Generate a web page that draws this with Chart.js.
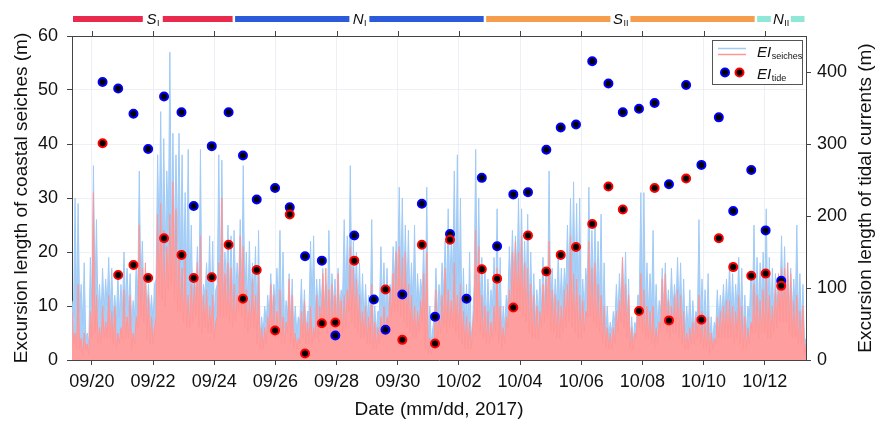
<!DOCTYPE html>
<html><head><meta charset="utf-8">
<script src="https://cdn.jsdelivr.net/npm/chart.js@4/dist/chart.umd.min.js"></script>
<style>html,body{margin:0;padding:0;background:#fff}</style>
</head><body>
<canvas id="c" width="877" height="423"></canvas>
<script>
// ---- DATA ----
// seiches excursion length (m): local peaks every 0.1 day from 0.65 day before 09/20 00:00,
// and the troughs read between consecutive peaks
const seichesStart = -0.65;
const seichesStep = 0.1;
const seichesBlue = [
11,30,29,14,18,5,19,36,26,14,17,
15,19,17,12,16,14,20,17,16,11,
18,35,22,16,14,12,14,38,46,41,
35,57,42,38,42,38,31,39,25,16,
21,39,14,18,23,22,13,38,37,20,
25,23,24,18,26,36,20,22,18,21,
24,8,10,12,16,14,17,24,20,11,
16,15,10,8,15,13,9,22,23,15,
15,17,14,24,16,15,17,13,26,23,
36,22,20,18,16,14,12,26,10,9,
21,18,17,14,21,22,32,30,25,24,
18,25,16,15,22,32,10,6,17,14,
18,22,28,22,35,38,30,17,14,20,
7,39,30,19,17,15,13,19,28,19,
10,12,21,24,23,30,28,22,27,20,
16,13,15,19,17,35,17,15,20,17,
17,25,30,33,29,30,15,17,32,24,
25,22,27,18,10,7,9,14,16,19,
20,15,8,7,12,31,31,18,16,24,
14,11,17,18,13,17,14,19,18,15,
10,13,11,9,26,15,13,16,8,7,
13,12,14,15,18,16,14,19,17,12,
10,16,25,19,18,20,28,19,17,16,
14,23,21,18,17,15,25,16,14,4
];
const seichesBlueLow = [
8,10,9,7,4,3,10,12,9,8,
9,10,9,8,7,8,9,10,9,7,
8,12,14,12,9,8,7,15,22,20,
20,24,22,20,22,18,16,15,12,10,
12,10,9,12,11,9,8,14,13,12,
14,12,11,12,14,13,11,10,11,12,
6,4,5,7,8,9,10,10,7,6,
8,6,5,5,7,6,5,9,10,8,
9,9,10,9,9,10,8,9,12,12,
14,12,11,9,8,7,7,6,5,5,
9,10,8,9,12,15,16,14,13,11,
10,10,9,10,12,6,3,3,8,8,
10,12,12,13,16,14,10,7,5,4,
4,14,12,10,8,7,8,10,10,6,
4,6,10,14,15,15,14,13,12,10,
8,7,8,9,10,11,9,9,10,9,
10,13,14,14,13,10,8,9,13,13,
13,12,11,6,4,4,5,7,8,10,
9,6,3,3,6,12,10,8,9,9,
6,6,9,9,8,8,9,10,9,7,
5,5,5,6,8,7,6,5,3,3,
6,7,8,8,9,8,8,9,7,5,
5,8,10,9,9,11,10,8,8,8,
9,11,10,9,8,9,9,7,6,3
];
const seichesRed = [
9,5,14,4,5,3,9,31,12,6,10,
7,12,9,10,5,6,13,8,12,5,
8,25,17,18,12,8,6,27,29,24,
21,27,33,28,20,17,19,12,14,15,
18,23,12,13,10,12,7,18,30,16,
18,17,14,12,23,21,13,11,15,12,
16,6,6,8,14,12,9,13,8,7,
15,12,5,4,9,11,7,10,6,12,
10,16,17,13,14,12,16,11,12,13,
21,17,15,12,9,10,8,14,7,6,
8,10,8,13,16,20,21,19,20,14,
12,10,9,11,16,20,4,3,13,8,
12,17,13,11,18,12,14,9,8,7,
6,24,21,12,10,9,7,10,17,10,
6,8,13,20,22,20,23,18,17,14,
12,10,9,14,15,22,13,12,11,10,
13,14,23,16,15,12,11,9,22,17,
18,14,12,10,6,5,6,9,11,19,
14,12,6,5,10,16,13,10,9,10,
6,7,15,16,11,10,12,13,12,9,
5,6,7,8,12,9,7,8,5,4,
8,9,10,11,11,10,9,12,10,8,
6,7,14,12,11,13,15,12,10,13,
16,17,17,18,16,11,12,9,10,3
];
const seichesRedLow = [
3,2,2,1,2,1,4,5,3,3,
4,4,4,3,2,3,4,4,4,2,
3,6,8,7,4,3,3,8,12,11,
10,13,14,11,9,9,7,6,6,7,
8,6,5,6,5,5,4,8,8,8,
8,7,6,7,9,8,6,5,6,6,
3,2,2,3,5,5,4,4,3,3,
5,3,2,2,3,4,3,3,3,4,
4,6,6,5,5,6,5,5,5,6,
9,7,6,5,4,4,3,3,2,2,
3,4,4,6,8,9,9,8,7,6,
5,4,4,5,7,2,1,1,4,4,
5,6,5,6,6,5,4,3,2,2,
2,9,7,5,4,3,3,4,5,3,
2,3,6,9,10,9,9,8,7,5,
4,4,4,6,7,8,5,5,4,4,
5,6,7,6,5,4,4,5,8,8,
7,6,5,3,2,2,2,3,5,7,
6,4,2,2,4,6,5,4,4,3,
2,3,6,6,5,4,5,5,4,3,
2,2,3,3,4,3,2,2,1,2,
3,4,4,4,4,4,3,4,3,2,
2,3,5,5,4,5,5,4,4,5,
6,7,7,7,5,4,4,3,3,1
];
// tidal current excursion length (m), days after 09/20 00:00
const tideDays = [0.35,0.86,1.36,1.84,2.36,2.93,3.33,3.92,4.47,4.94,5.39,5.99,6.47,6.97,7.52,7.96,8.58,9.22,9.60,10.15,10.79,11.22,11.71,12.25,12.75,13.25,13.78,14.26,14.86,15.33,15.83,16.36,16.89,17.36,17.89,18.40,18.87,19.43,19.93,20.50,20.97,21.56,22.03,22.54];
const tideBlue = [386,377,342,293,366,344,214,297,344,284,223,239,212,144,138,34,173,84,42,91,217,60,175,85,253,158,230,233,292,323,327,415,384,344,349,357,244,382,271,337,207,264,180,110];
const tideRed = [301,118,132,114,169,146,114,115,160,85,125,41,202,9,51,52,138,null,98,28,160,23,167,null,126,113,73,173,123,146,157,189,241,209,68,239,55,252,56,169,129,117,120,103];
// axes
const tickDays = [0,2,4,6,8,10,12,14,16,18,20,22];
const tickLabels = ['09/20','09/22','09/24','09/26','09/28','09/30','10/02','10/04','10/06','10/08','10/10','10/12'];
const leftTicks = [0,10,20,30,40,50,60];
const rightTicks = [0,100,200,300,400];
// phases
const phaseNames = ['S','N','S','N'];
const phaseSubs = ['I','I','II','II'];
const phaseStarts = [-0.65,4.65,12.86,21.72];
const phaseEnds = [4.65,12.86,21.72,23.35];
const phaseColors = ['#ea2a4c','#2b5ada','#f59c4d','#8fe8d5'];

// ---- CHART ----
const FONT = "'Liberation Sans', Arial, sans-serif";
function seriesPts(peaks, lows){
  const pts = [];
  peaks.forEach((v,i)=>{
    pts.push({x: seichesStart + i*seichesStep, y: v});
    if (i < lows.length) pts.push({x: seichesStart + (i+0.5)*seichesStep, y: lows[i]});
  });
  return pts;
}
const toDots = (arr) => tideDays.map((d,i)=>({x:d, y:arr[i]})).filter(p=>p.y!==null);

const decor = {
  id:'decor',
  afterDraw(chart){
    const ctx = chart.ctx, ca = chart.chartArea, xs = chart.scales.x;
    ctx.save();
    ctx.strokeStyle = '#444'; ctx.lineWidth = 1;
    ctx.beginPath(); ctx.moveTo(ca.left, ca.top+0.5); ctx.lineTo(ca.right, ca.top+0.5); ctx.stroke();
    tickDays.forEach(d=>{
      const x = Math.round(xs.getPixelForValue(d))+0.5;
      ctx.beginPath(); ctx.moveTo(x, ca.top-5); ctx.lineTo(x, ca.top); ctx.stroke();
    });
    // phase bars
    phaseStarts.forEach((s,k)=>{
      const x0 = xs.getPixelForValue(s)+1, x1 = xs.getPixelForValue(phaseEnds[k])-1.5;
      const xc = (x0+x1)/2;
      ctx.fillStyle = phaseColors[k];
      ctx.fillRect(x0, 16, xc-10-x0, 6);
      ctx.fillRect(xc+10, 16, x1-xc-10, 6);
      ctx.fillStyle = '#111';
      ctx.font = 'italic 15px '+FONT;
      const w1 = ctx.measureText(phaseNames[k]).width;
      ctx.font = '9px '+FONT;
      const w2 = ctx.measureText(phaseSubs[k]).width;
      const xl = xc - (w1+w2)/2;
      ctx.textBaseline = 'alphabetic'; ctx.textAlign='left';
      ctx.font = 'italic 15px '+FONT; ctx.fillText(phaseNames[k], xl, 24);
      ctx.font = '9px '+FONT; ctx.fillText(phaseSubs[k], xl+w1+0.5, 26);
    });
    // legend
    const lx = ca.right-94, ly = ca.top+4;
    ctx.lineWidth = 1;
    ctx.fillStyle='#fff'; ctx.fillRect(lx+0.5, ly+0.5, 90, 44);
    ctx.strokeStyle='#555'; ctx.strokeRect(lx+0.5, ly+0.5, 90, 44);
    ctx.lineWidth = 1.5;
    ctx.strokeStyle='rgb(160,202,245)'; ctx.beginPath(); ctx.moveTo(lx+6, ly+8.5); ctx.lineTo(lx+34, ly+8.5); ctx.stroke();
    ctx.strokeStyle='rgb(255,150,150)'; ctx.beginPath(); ctx.moveTo(lx+6, ly+14.5); ctx.lineTo(lx+34, ly+14.5); ctx.stroke();
    [['#0000ff',lx+13],['#ff0000',lx+27.5]].forEach(([c,x])=>{
      ctx.beginPath(); ctx.arc(x, ly+32.5, 4, 0, Math.PI*2);
      ctx.fillStyle='#000'; ctx.fill(); ctx.lineWidth=2; ctx.strokeStyle=c; ctx.stroke();
    });
    ctx.fillStyle='#111'; ctx.textAlign='left'; ctx.textBaseline='alphabetic';
    ctx.font='italic 15px '+FONT; ctx.fillText('EI', lx+45, ly+17);
    const we = ctx.measureText('EI').width;
    ctx.font='9px '+FONT; ctx.fillText('seiches', lx+45+we+0.5, ly+19);
    ctx.font='italic 15px '+FONT; ctx.fillText('EI', lx+45, ly+38.5);
    ctx.font='9px '+FONT; ctx.fillText('tide', lx+45+we+0.5, ly+41);
    // right title
    ctx.translate(866, (ca.top+ca.bottom)/2);
    ctx.rotate(-Math.PI/2);
    ctx.textAlign='center'; ctx.textBaseline='middle';
    ctx.font='19px '+FONT; ctx.fillStyle='#111';
    ctx.fillText('Excursion length of tidal currents (m)', 0, 0);
    ctx.restore();
  }
};

new Chart(document.getElementById('c'), {
  type:'line',
  data:{ datasets:[
    {label:'EI_seiches blue', data:seriesPts(seichesBlue, seichesBlueLow), borderColor:'rgb(160,202,245)', backgroundColor:'rgb(168,207,247)', fill:'origin', borderWidth:1, pointRadius:0, tension:0, yAxisID:'y', order:4},
    {label:'EI_seiches red', data:seriesPts(seichesRed, seichesRedLow), borderColor:'rgb(255,150,150)', backgroundColor:'rgb(255,158,158)', fill:'origin', borderWidth:1, pointRadius:0, tension:0, yAxisID:'y', order:3},
    {type:'scatter', label:'EI_tide blue', data:toDots(tideBlue), pointRadius:4, pointBorderWidth:2, pointBackgroundColor:'#000', pointBorderColor:'#0000ff', backgroundColor:'#000', borderColor:'#0000ff', yAxisID:'y2', order:2},
    {type:'scatter', label:'EI_tide red', data:toDots(tideRed), pointRadius:4, pointBorderWidth:2, pointBackgroundColor:'#000', pointBorderColor:'#ff0000', backgroundColor:'#000', borderColor:'#ff0000', yAxisID:'y2', order:1}
  ]},
  options:{
    responsive:false, animation:false, devicePixelRatio:1,
    layout:{padding:{top:36,left:0,right:0,bottom:0}},
    plugins:{legend:{display:false}, tooltip:{enabled:false}},
    scales:{
      x:{type:'linear', min:-0.65, max:23.35,
        afterBuildTicks(s){ s.ticks = tickDays.map(v=>({value:v})); },
        afterFit(s){ s.height = 63; },
        ticks:{ padding:6, maxRotation:0, autoSkip:false, color:'#111', font:{family:FONT,size:18},
          callback(v){ const k = tickDays.indexOf(v); return k>=0 ? tickLabels[k] : ''; } },
        grid:{color:'rgba(225,232,240,0.6)', tickColor:'#444', tickLength:5},
        border:{color:'#444'},
        title:{display:true, text:'Date (mm/dd, 2017)', color:'#111', font:{family:FONT,size:19}, padding:{top:0,bottom:2}}
      },
      y:{type:'linear', position:'left', min:0, max:60,
        afterBuildTicks(s){ s.ticks = leftTicks.map(v=>({value:v})); },
        afterFit(s){ s.width = 72; },
        ticks:{ padding:9, color:'#111', font:{family:FONT,size:18} },
        grid:{color:'rgba(225,232,240,0.6)', tickColor:'#444', tickLength:5},
        border:{color:'#444'},
        title:{display:true, text:'Excursion length of coastal seiches (m)', color:'#111', font:{family:FONT,size:19}, padding:{top:10,bottom:0}}
      },
      y2:{type:'linear', position:'right', min:0, max:450,
        afterBuildTicks(s){ s.ticks = rightTicks.map(v=>({value:v})); },
        afterFit(s){ s.width = 71; },
        ticks:{ padding:6, color:'#111', font:{family:FONT,size:18} },
        grid:{drawOnChartArea:false, tickColor:'#444', tickLength:5},
        border:{color:'#444'}
      }
    }
  },
  plugins:[decor]
});
</script>
</body></html>
